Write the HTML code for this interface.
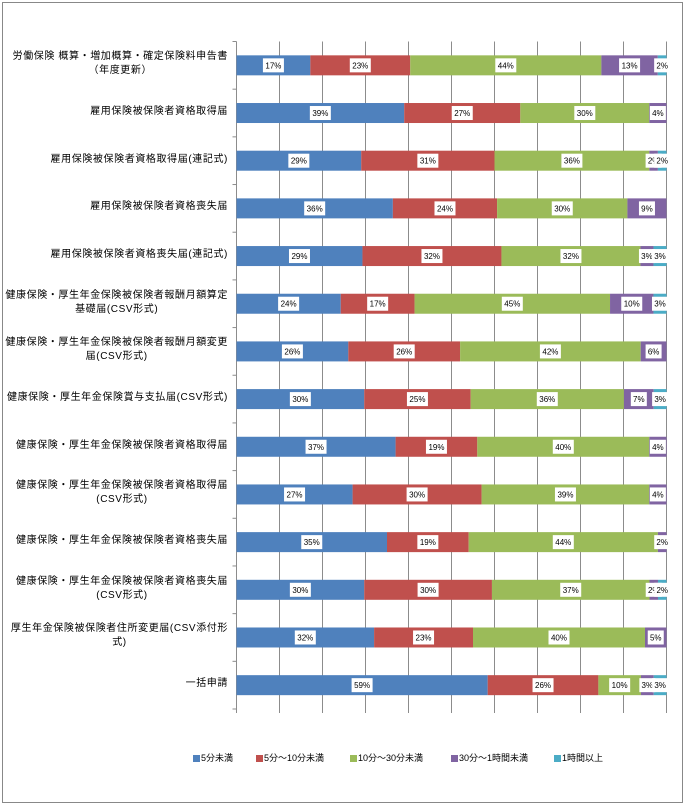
<!DOCTYPE html>
<html><head><meta charset="utf-8"><style>
body{margin:0;background:#fff;}
#wrap{position:relative;width:686px;height:807px;overflow:hidden;font-family:"Liberation Sans","Noto Sans CJK JP",sans-serif;}
.cat{position:absolute;right:458px;font-size:10px;line-height:14px;color:#000;text-align:center;white-space:nowrap;letter-spacing:0.6px;}
.leg{position:absolute;font-size:9px;color:#000;white-space:nowrap;line-height:10px;}
.leg span{display:inline-block;width:7px;height:7px;margin-right:1px;vertical-align:-1px;}
</style></head><body>
<div id="wrap">
<svg id="svg" width="686" height="807" style="position:absolute;left:0;top:0"></svg>
</div>
<script>
const categories=[
"労働保険 概算・増加概算・確定保険料申告書\n（年度更新）",
"雇用保険被保険者資格取得届",
"雇用保険被保険者資格取得届(連記式)",
"雇用保険被保険者資格喪失届",
"雇用保険被保険者資格喪失届(連記式)",
"健康保険・厚生年金保険被保険者報酬月額算定\n基礎届(CSV形式)",
"健康保険・厚生年金保険被保険者報酬月額変更\n届(CSV形式)",
"健康保険・厚生年金保険賞与支払届(CSV形式)",
"健康保険・厚生年金保険被保険者資格取得届",
"健康保険・厚生年金保険被保険者資格取得届\n(CSV形式)",
"健康保険・厚生年金保険被保険者資格喪失届",
"健康保険・厚生年金保険被保険者資格喪失届\n(CSV形式)",
"厚生年金保険被保険者住所変更届(CSV添付形\n式)",
"一括申請"];
const seriesNames=["5分未満","5分～10分未満","10分～30分未満","30分～1時間未満","1時間以上"];
const s1=[17,39,29,36,29,24,26,30,37,27,35,30,32,59];
const s2=[23,27,31,24,32,17,26,25,19,30,19,30,23,26];
const s3=[44,30,36,30,32,45,42,36,40,39,44,37,40,10];
const s4=[13,4,2,9,3,10,6,7,4,4,2,2,5,3];
const s5=[2,0,2,0,3,3,0,3,0,0,0,2,0,3];
const series=[s1,s2,s3,s4,s5];
const colors=["#4F81BD","#C0504D","#9BBB59","#8064A2","#4BACC6"];
const gridTicks=[0,10,20,30,40,50,60,70,80,90,100];

const NS="http://www.w3.org/2000/svg";
const svg=document.getElementById('svg');
const X0=236.5,X1=666.5,Y0=41.5,Y1=709;
const band=(Y1-Y0)/categories.length;
const xs=v=>X0+(X1-X0)*v/100;
function mk(t,a){const e=document.createElementNS(NS,t);for(const k in a)e.setAttribute(k,a[k]);svg.appendChild(e);return e;}
let b=mk('rect',{x:2.5,y:2.5,width:680,height:800,fill:'none',stroke:'#888','stroke-width':1});


gridTicks.forEach((t,i)=>{
  const g=mk('line',{x1:xs(t),x2:xs(t),y1:Y0,y2:Y1+4,stroke:'#8c8c8c','stroke-width':1});
  
  
});
for(let i=0;i<=categories.length;i++){
  const y=Y0+i*band;
  const t=mk('line',{x1:X0-4,x2:X0,y1:y,y2:y,stroke:'#8c8c8c'});
  
  
}
const wrap=document.getElementById('wrap');
categories.forEach((c,i)=>{
  const cy=Y0+(i+0.5)*band;
  const tot=series.reduce((a,s)=>a+s[i],0);
  let acc=0;
  const labels=[];
  series.forEach((s,k)=>{
    const v=s[i];if(v<=0)return;
    const xa=xs(acc/tot*100),xb=xs((acc+v)/tot*100);
    const r=mk('rect',{x:xa,y:cy-10,width:xb-xa,height:20,fill:colors[k]});
    
    
    labels.push([(xa+xb)/2,v]);
    acc+=v;
  });
  labels.forEach(([mx,v])=>{
    const txt=v+'%';const w=txt.length*5+6;
    const lb=mk('rect',{x:mx-w/2,y:cy-7,width:w,height:14,fill:'#fff'});
    
    
    const tx=mk('text',{x:mx,y:cy+3,'font-size':8,'text-anchor':'middle','font-family':'Liberation Sans, sans-serif',fill:'#000'});
    tx.textContent=txt;
    
    
  });
  const d=document.createElement('div');
  d.className='cat';
  const lines=c.split('\n');
  d.innerHTML=lines.join('<br>');
  d.style.top=(cy-lines.length*7-1)+'px';
  
  
  wrap.appendChild(d);
});
const legX=[193,256,350,451,554];
seriesNames.forEach((n,k)=>{
  const d=document.createElement('div');
  d.className='leg';
  d.style.left=legX[k]+'px';d.style.top='753px';
  d.innerHTML='<span style="background:'+colors[k]+'"></span>'+n;
  
  
  wrap.appendChild(d);
});
</script>
</body></html>
